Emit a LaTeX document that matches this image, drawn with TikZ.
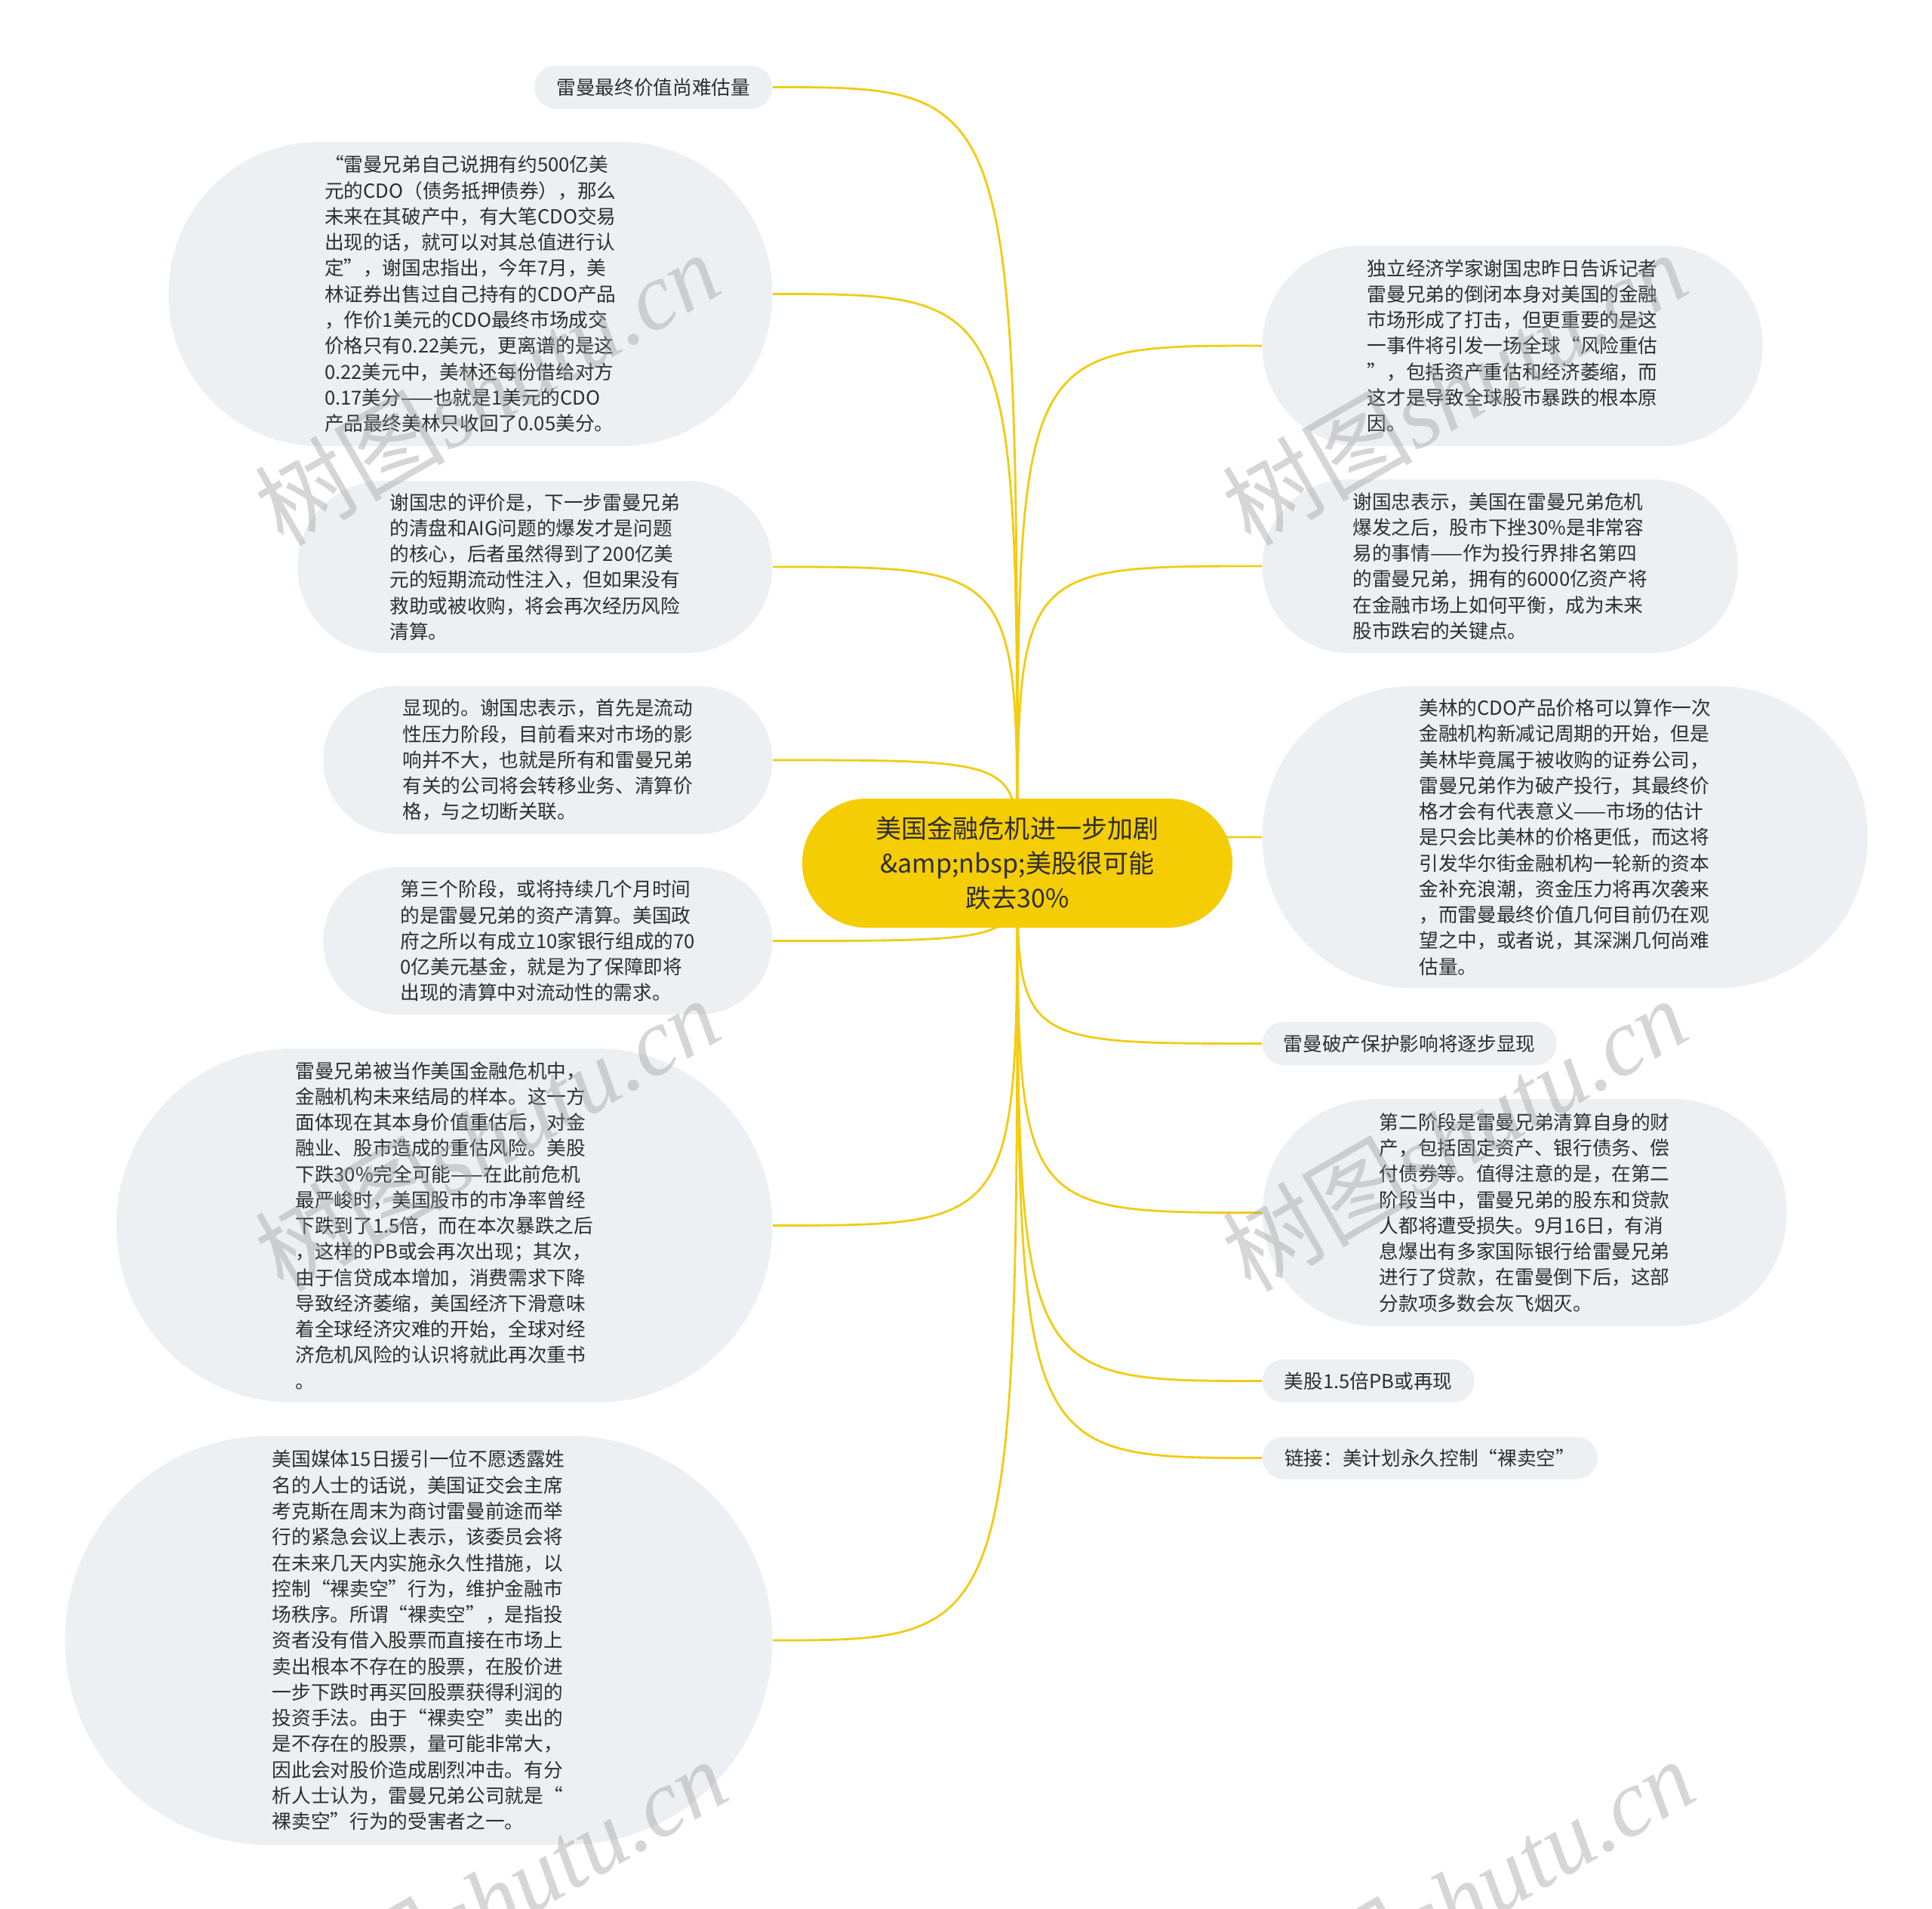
\documentclass[tikz,border=0pt]{standalone}
\usepackage{fontspec}
\setmainfont{Noto Sans CJK SC}
\newfontfamily\wmserif{Liberation Serif}
\usetikzlibrary{positioning,backgrounds}
\definecolor{topicyellow}{HTML}{F5CD05}
\definecolor{linkyellow}{HTML}{F3CB12}
\definecolor{leaffill}{HTML}{EDF0F3}
\definecolor{ink}{HTML}{2E2E2E}
\definecolor{wmgray}{HTML}{9A9A9A}

\begin{document}
\begin{tikzpicture}[
  leaf/.style={fill=leaffill,text=ink,align=left,inner sep=0pt,font=\fontsize{7.3pt}{9.75pt}\selectfont},
  topic/.style={fill=topicyellow,text=ink,align=center,inner sep=0pt,font=\fontsize{9.7pt}{13pt}\selectfont,
    minimum width=5.7cm,minimum height=1.71cm,rounded corners=.85cm},
  link/.style={draw=linkyellow,line width=.8pt},
  wmark/.style={text=wmgray,opacity=.4,rotate=30,font=\fontsize{36pt}{36pt}\selectfont}]
\useasboundingbox (0,0) rectangle (25.6,-25.29);
% central topic
\node[topic] (root) at (13.48,-11.435) {美国金融危机进一步加剧\\\&amp;nbsp;美股很可能\\跌去30\%};
% left branch, right edges on one line
\node[leaf,anchor=east,minimum width=3.15cm,minimum height=.57cm,rounded corners=.28cm] (l1) at (10.24,-1.155) {雷曼最终价值尚难估量};
\node[leaf,anchor=east,minimum width=8cm,minimum height=4.03cm,rounded corners=2cm] (l2) at (10.24,-3.895) {“雷曼兄弟自己说拥有约500亿美\\元的CDO（债务抵押债券），那么\\未来在其破产中，有大笔CDO交易\\出现的话，就可以对其总值进行认\\定”，谢国忠指出，今年7月，美\\林证券出售过自己持有的CDO产品\\，作价1美元的CDO最终市场成交\\价格只有0.22美元，更离谱的是这\\0.22美元中，美林还每份借给对方\\0.17美分——也就是1美元的CDO\\产品最终美林只收回了0.05美分。};
\node[leaf,anchor=east,minimum width=6.29cm,minimum height=2.28cm,rounded corners=1.13cm] (l3) at (10.24,-7.51) {谢国忠的评价是，下一步雷曼兄弟\\的清盘和AIG问题的爆发才是问题\\的核心，后者虽然得到了200亿美\\元的短期流动性注入，但如果没有\\救助或被收购，将会再次经历风险\\清算。};
\node[leaf,anchor=east,minimum width=5.95cm,minimum height=1.96cm,rounded corners=.97cm] (l4) at (10.24,-10.07) {显现的。谢国忠表示，首先是流动\\性压力阶段，目前看来对市场的影\\响并不大，也就是所有和雷曼兄弟\\有关的公司将会转移业务、清算价\\格，与之切断关联。};
\node[leaf,anchor=east,minimum width=5.95cm,minimum height=1.95cm,rounded corners=.97cm] (l5) at (10.24,-12.465) {第三个阶段，或将持续几个月时间\\的是雷曼兄弟的资产清算。美国政\\府之所以有成立10家银行组成的70\\0亿美元基金，就是为了保障即将\\出现的清算中对流动性的需求。};
\node[leaf,anchor=east,minimum width=8.69cm,minimum height=4.69cm,rounded corners=2.33cm] (l6) at (10.24,-16.235) {雷曼兄弟被当作美国金融危机中，\\金融机构未来结局的样本。这一方\\面体现在其本身价值重估后，对金\\融业、股市造成的重估风险。美股\\下跌30\%完全可能——在此前危机\\最严峻时，美国股市的市净率曾经\\下跌到了1.5倍，而在本次暴跌之后\\，这样的PB或会再次出现；其次，\\由于信贷成本增加，消费需求下降\\导致经济萎缩，美国经济下滑意味\\着全球经济灾难的开始，全球对经\\济危机风险的认识将就此再次重书\\。};
\node[leaf,anchor=east,minimum width=9.37cm,minimum height=5.42cm,rounded corners=2.7cm] (l7) at (10.24,-21.73) {美国媒体15日援引一位不愿透露姓\\名的人士的话说，美国证交会主席\\考克斯在周末为商讨雷曼前途而举\\行的紧急会议上表示，该委员会将\\在未来几天内实施永久性措施，以\\控制“裸卖空”行为，维护金融市\\场秩序。所谓“裸卖空”，是指投\\资者没有借入股票而直接在市场上\\卖出根本不存在的股票，在股价进\\一步下跌时再买回股票获得利润的\\投资手法。由于“裸卖空”卖出的\\是不存在的股票，量可能非常大，\\因此会对股价造成剧烈冲击。有分\\析人士认为，雷曼兄弟公司就是“\\裸卖空”行为的受害者之一。};
% right branch, left edges on one line
\node[leaf,anchor=west,minimum width=6.63cm,minimum height=2.66cm,rounded corners=1.32cm] (r1) at (16.72,-4.58) {独立经济学家谢国忠昨日告诉记者\\雷曼兄弟的倒闭本身对美国的金融\\市场形成了打击，但更重要的是这\\一事件将引发一场全球“风险重估\\”，包括资产重估和经济萎缩，而\\这才是导致全球股市暴跌的根本原\\因。};
\node[leaf,anchor=west,minimum width=6.3cm,minimum height=2.3cm,rounded corners=1.14cm] (r2) at (16.72,-7.5) {谢国忠表示，美国在雷曼兄弟危机\\爆发之后，股市下挫30\%是非常容\\易的事情——作为投行界排名第四\\的雷曼兄弟，拥有的6000亿资产将\\在金融市场上如何平衡，成为未来\\股市跌宕的关键点。};
\node[leaf,anchor=west,minimum width=8.02cm,minimum height=4cm,rounded corners=1.99cm] (r3) at (16.72,-11.09) {美林的CDO产品价格可以算作一次\\金融机构新减记周期的开始，但是\\美林毕竟属于被收购的证券公司，\\雷曼兄弟作为破产投行，其最终价\\格才会有代表意义——市场的估计\\是只会比美林的价格更低，而这将\\引发华尔街金融机构一轮新的资本\\金补充浪潮，资金压力将再次袭来\\，而雷曼最终价值几何目前仍在观\\望之中，或者说，其深渊几何尚难\\估量。};
\node[leaf,anchor=west,minimum width=3.9cm,minimum height=.57cm,rounded corners=.28cm] (r4) at (16.72,-13.825) {雷曼破产保护影响将逐步显现};
\node[leaf,anchor=west,minimum width=6.95cm,minimum height=3.01cm,rounded corners=1.5cm] (r5) at (16.72,-16.065) {第二阶段是雷曼兄弟清算自身的财\\产，包括固定资产、银行债务、偿\\付债券等。值得注意的是，在第二\\阶段当中，雷曼兄弟的股东和贷款\\人都将遭受损失。9月16日，有消\\息爆出有多家国际银行给雷曼兄弟\\进行了贷款，在雷曼倒下后，这部\\分款项多数会灰飞烟灭。};
\node[leaf,anchor=west,minimum width=2.81cm,minimum height=.57cm,rounded corners=.28cm] (r6) at (16.72,-18.295) {美股1.5倍PB或再现};
\node[leaf,anchor=west,minimum width=4.44cm,minimum height=.56cm,rounded corners=.28cm] (r7) at (16.72,-19.315) {链接：美计划永久控制“裸卖空”};
% white page and curved links behind everything
\begin{scope}[on background layer]
\fill[white] (0,0) rectangle (25.6,-25.29);
\foreach \n in {l1,l2,l3,l4,l5,l6,l7}{\draw[link] (root.center) .. controls (root.center |- \n.east) .. (\n.east);}
\foreach \n in {r1,r2,r3,r4,r5,r6,r7}{\draw[link] (root.center) .. controls (root.center |- \n.west) .. (\n.west);}
\end{scope}
% watermark
\foreach \x/\y/\k in {6.45/-5.14/1,19.27/-5.14/2,6.45/-15.02/3,19.27/-15.02/4,6.55/-25.1/5,19.37/-25.1/6}{
  \node[wmark] (wm\k) at (\x,\y) {树图{\wmserif\itshape shutu.cn}};
}
\end{tikzpicture}
\end{document}
